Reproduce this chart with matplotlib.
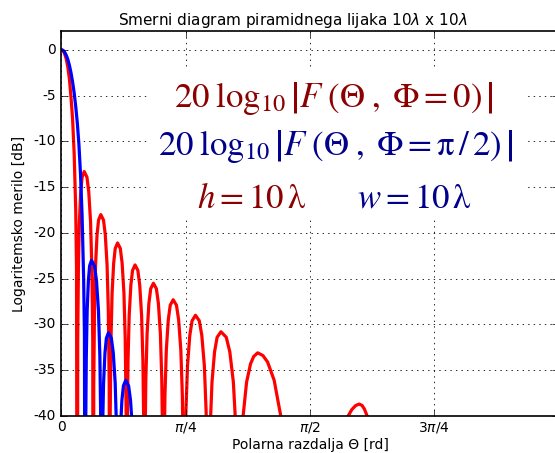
import matplotlib
matplotlib.use('Agg')
import matplotlib.pyplot as plt
from matplotlib.patches import Rectangle
import numpy as np

plt.style.use('classic')
plt.rcParams['axes.unicode_minus'] = False
plt.rcParams['mathtext.fontset'] = 'dejavusans'

# E ravnina, Phi = 0 (odcitano s slike), kot v radianih, nivo v dB
red_theta = [0.0, 0.01, 0.02, 0.03, 0.04, 0.05, 0.06, 0.07, 0.08, 0.09, 0.095, 0.100,
             0.1026, 0.1070, 0.1131, 0.1218, 0.1305, 0.1435, 0.1608, 0.1723, 0.1838, 0.1918, 0.1976, 0.201,
             0.2039, 0.2086, 0.2153, 0.2248, 0.2343, 0.2485, 0.2655, 0.2768, 0.2881, 0.2960, 0.3016, 0.305,
             0.3080, 0.3129, 0.3199, 0.3298, 0.3397, 0.3545, 0.3718, 0.3833, 0.3948, 0.4028, 0.4086, 0.412,
             0.4152, 0.4205, 0.4279, 0.4385, 0.4491, 0.465, 0.4827, 0.4945, 0.5063, 0.5146, 0.5205, 0.524,
             0.5274, 0.5331, 0.5411, 0.5525, 0.5639, 0.581, 0.5999, 0.6125, 0.6251, 0.6339, 0.6402, 0.644,
             0.6477, 0.6539, 0.6626, 0.675, 0.6874, 0.706, 0.7267, 0.7405, 0.7543, 0.764, 0.7709, 0.775,
             0.7793, 0.7865, 0.7966, 0.811, 0.8254, 0.847, 0.871, 0.887, 0.903, 0.9142, 0.9222, 0.927,
             0.9319, 0.94, 0.9513, 0.9675, 0.9837, 1.008, 1.0416, 1.064, 1.0864, 1.1021, 1.1133, 1.120,
             1.125, 1.135, 1.148, 1.17, 1.195, 1.215, 1.24, 1.2734, 1.3026, 1.3443, 1.386, 1.4152, 1.571,
             1.70, 1.78, 1.812, 1.835, 1.86, 1.882, 1.90, 1.915, 1.932, 1.96, 2.022]
red_db = [0.0, -0.1, -0.45, -1.0, -1.9, -3.2, -5.2, -7.5, -11.3, -17.5, -24.0, -80.0,
          -31.8, -23.8, -18.8, -15.5, -13.9, -13.3, -13.9, -15.5, -18.8, -23.8, -31.8, -80.0,
          -36.5, -28.5, -23.5, -20.2, -18.6, -18.0, -18.6, -20.2, -23.5, -28.5, -36.5, -80.0,
          -39.6, -31.6, -26.6, -23.3, -21.7, -21.1, -21.7, -23.3, -26.6, -31.6, -39.6, -80.0,
          -42.0, -34.0, -29.0, -25.7, -24.1, -23.5, -24.1, -25.7, -29.0, -34.0, -42.0, -80.0,
          -44.0, -36.0, -31.0, -27.7, -26.1, -25.5, -26.1, -27.7, -31.0, -36.0, -44.0, -80.0,
          -45.8, -37.8, -32.8, -29.5, -27.9, -27.3, -27.9, -29.5, -32.8, -37.8, -45.8, -80.0,
          -47.5, -39.5, -34.5, -31.2, -29.6, -29.0, -29.6, -31.2, -34.5, -39.5, -47.5, -80.0,
          -49.3, -41.3, -36.3, -33.0, -31.4, -30.8, -31.4, -33.0, -36.3, -41.3, -49.3, -80.0,
          -55.0, -45.5, -40.0, -36.3, -34.3, -33.5, -33.1, -33.4, -34.1, -36.1, -40.0, -45.2, -80.0,
          -52.0, -43.0, -40.0, -39.3, -38.85, -38.7, -38.85, -39.25, -40.0, -43.0, -80.0]

# H ravnina, Phi = pi/2
blue_theta = [0.0, 0.01, 0.02, 0.03, 0.04, 0.05, 0.06, 0.07, 0.08, 0.09, 0.10, 0.11, 0.12, 0.13, 0.14, 0.145, 0.1506,
              0.1529, 0.1568, 0.1623, 0.1701, 0.1778, 0.1895, 0.2085, 0.2211, 0.2337, 0.2426, 0.2489, 0.2527,
              0.2554, 0.2598, 0.2660, 0.2749, 0.2837, 0.2970, 0.3152, 0.3273, 0.3394, 0.3479, 0.3540, 0.3576,
              0.3605, 0.3653, 0.3721, 0.3818, 0.3915, 0.4060, 0.4242, 0.4364, 0.4486, 0.4571, 0.4632, 0.4668]
blue_db = [0.0, -0.06, -0.25, -0.6, -1.05, -1.7, -2.5, -3.5, -4.7, -6.2, -8.0, -10.3, -13.5, -18.0, -25.0, -31.0, -80.0,
           -41.5, -33.5, -28.5, -25.2, -23.6, -23.0, -23.6, -25.2, -28.5, -33.5, -41.5, -80.0,
           -49.4, -41.4, -36.4, -33.1, -31.5, -30.9, -31.5, -33.1, -36.4, -41.4, -49.4, -80.0,
           -54.6, -46.6, -41.6, -38.3, -36.7, -36.1, -36.7, -38.3, -41.6, -46.6, -54.6, -80.0]

x_ticks = [0, np.pi / 4, np.pi / 2, 3 * np.pi / 4]
x_labels = ['0', r'$\pi/4$', r'$\pi/2$', r'$3\pi/4$']
y_ticks = [0, -5, -10, -15, -20, -25, -30, -35, -40]

fig = plt.figure(figsize=(5.55, 4.53), dpi=100, facecolor='white')
ax = fig.add_axes([0.1108, 0.0817, 0.8955, 0.8488])

ax.plot(red_theta, red_db, color='r', lw=2.3)
ax.plot(blue_theta, blue_db, color='b', lw=2.3)

ax.set_xlim(0, np.pi)
ax.set_ylim(-40, 2)
ax.set_xticks(x_ticks)
ax.set_xticklabels(x_labels, fontsize=10)
ax.set_yticks(y_ticks)
ax.set_yticklabels([str(v) for v in y_ticks], fontsize=10)
ax.tick_params(axis='x', pad=3)
ax.tick_params(axis='y', pad=4)
ax.grid(True, color='k', linestyle=':', linewidth=0.6)
for s in ax.spines.values():
    s.set_linewidth(1.2)

ax.set_title('Smerni diagram piramidnega lijaka 10$\\lambda$ x 10$\\lambda$', fontsize=11, x=0.465)
ax.set_xlabel('Polarna razdalja \u0398 [rd]', fontsize=10, labelpad=2)
ax.set_ylabel('Logaritemsko merilo [dB]', fontsize=10)

# bela podlaga za formule
ax.add_patch(Rectangle((0.174, 0.518), 0.764, 0.387, transform=ax.transAxes,
                       facecolor='white', edgecolor='none', zorder=3))

dred = '#8b0000'
dblue = '#00008b'
ax.text(0.549, 0.8036, r'$20\;\log_{10}\left|F\;\left(\Theta\;,\;\Phi=0\right)\,\right|$',
        transform=ax.transAxes, ha='center', va='baseline', fontsize=25,
        color=dred, math_fontfamily='stix', zorder=4)
ax.text(0.551, 0.6780, r'$20\;\log_{10}\left|F\;\left(\Theta\;,\;\Phi=\mathrm{\pi}\,/\,2\right)\,\right|$',
        transform=ax.transAxes, ha='center', va='baseline', fontsize=25,
        color=dblue, math_fontfamily='stix', zorder=4)
ax.text(0.383, 0.541, r'$h=10\,\mathrm{λ}$',
        transform=ax.transAxes, ha='center', va='baseline', fontsize=25,
        color=dred, math_fontfamily='stix', zorder=4)
ax.text(0.71, 0.541, r'$w=10\,\mathrm{λ}$',
        transform=ax.transAxes, ha='center', va='baseline', fontsize=25,
        color=dblue, math_fontfamily='stix', zorder=4)

fig.savefig('out.png', dpi=100, facecolor='white')
